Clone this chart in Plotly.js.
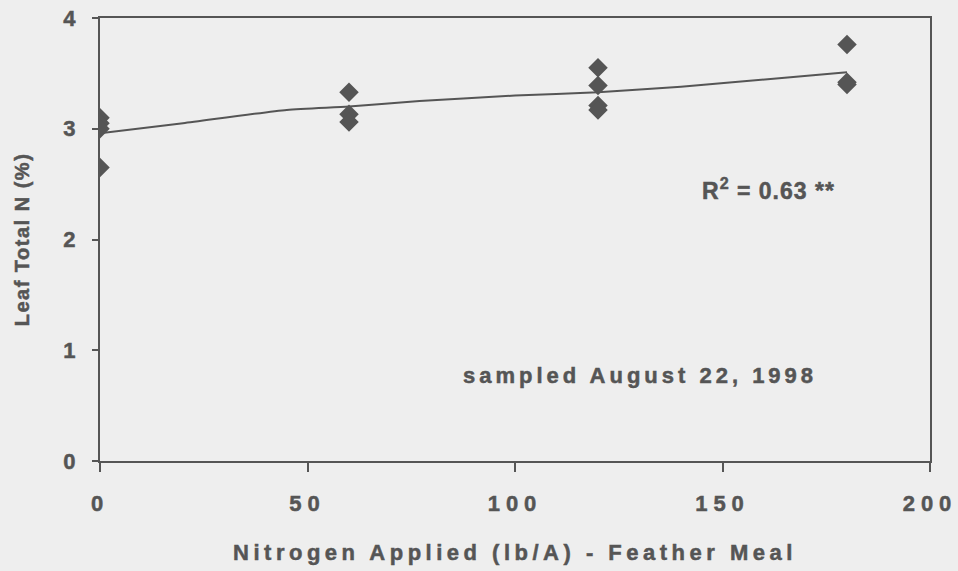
<!DOCTYPE html>
<html>
<head>
<meta charset="utf-8">
<script src="https://cdn.plot.ly/plotly-3.0.1.min.js"></script>
<style>
  html, body { margin: 0; padding: 0; background: #eeeeee; }
  #chart { width: 958px; height: 571px; }
  .xtick text, .ytick text { letter-spacing: 6px; }
  .g-xtitle text { letter-spacing: 4.5px; }
  .g-ytitle text { letter-spacing: 1.5px; }
  #chart svg text { stroke: #555555; stroke-width: 0.5px; }
</style>
</head>
<body>
<div id="chart"></div>
<script>
// Observed data (nitrogen applied, lb/A) vs leaf total N (%)
const nitrogenApplied = [0, 0, 0, 0, 60, 60, 60, 120, 120, 120, 120, 180, 180, 180];
const leafTotalN      = [3.10, 3.05, 3.00, 2.65, 3.33, 3.13, 3.06, 3.55, 3.39, 3.21, 3.17, 3.76, 3.42, 3.40];

// Fitted trend line
const trendX = [0, 20, 45, 60, 77, 100, 120, 140, 165, 180];
const trendY = [2.96, 3.05, 3.17, 3.20, 3.25, 3.30, 3.33, 3.38, 3.46, 3.51];

// Axis ticks
const xTicks = [0, 50, 100, 150, 200];
const yTicks = [0, 1, 2, 3, 4];

const ink = '#555555';
const fontFam = '"Liberation Sans", Arial, sans-serif';

const traces = [
  {
    x: trendX, y: trendY, type: 'scatter', mode: 'lines',
    line: { color: ink, width: 2, shape: 'spline', smoothing: 0.6 },
    hoverinfo: 'skip', showlegend: false
  },
  {
    x: nitrogenApplied, y: leafTotalN, type: 'scatter', mode: 'markers',
    marker: { symbol: 'diamond', size: 15, color: ink, line: { width: 0 } },
    showlegend: false
  }
];

const layout = {
  width: 958, height: 571,
  paper_bgcolor: '#eeeeee', plot_bgcolor: '#eeeeee',
  margin: { l: 100, r: 28, t: 18, b: 110 },
  font: { family: fontFam, color: ink },
  showlegend: false,
  xaxis: {
    range: [0, 200], tickvals: xTicks, ticktext: xTicks.map(String),
    ticks: 'outside', ticklen: 9, tickwidth: 2, tickcolor: ink,
    ticklabelstandoff: 13,
    showline: true, linecolor: ink, linewidth: 2, mirror: true,
    showgrid: false, zeroline: false,
    tickfont: { family: fontFam, size: 22, color: ink, weight: 'bold' },
    title: { text: '<b>Nitrogen Applied (lb/A) - Feather Meal</b>', standoff: 29,
             font: { family: fontFam, size: 22, color: ink } }
  },
  yaxis: {
    range: [0, 4], tickvals: yTicks, ticktext: yTicks.map(String),
    ticks: 'outside', ticklen: 6, tickwidth: 2, tickcolor: ink,
    ticklabelstandoff: 6,
    showline: true, linecolor: ink, linewidth: 2, mirror: true,
    showgrid: false, zeroline: false,
    tickfont: { family: fontFam, size: 22, color: ink, weight: 'bold' },
    title: { text: '<b>Leaf Total N (%)</b>', standoff: 28,
             font: { family: fontFam, size: 20, color: ink } }
  },
  annotations: [
    { x: 161, y: 2.46, xref: 'x', yref: 'y', showarrow: false,
      text: '<span style="letter-spacing:1px"><b>R<sup>2</sup> = 0.63 **</b></span>',
      font: { family: fontFam, size: 23, color: ink } },
    { x: 130, y: 0.77, xref: 'x', yref: 'y', showarrow: false,
      text: '<span style="letter-spacing:4px"><b>sampled August 22, 1998</b></span>',
      font: { family: fontFam, size: 22, color: ink } }
  ]
};

Plotly.newPlot('chart', traces, layout, { displayModeBar: false, staticPlot: true });
</script>
</body>
</html>
